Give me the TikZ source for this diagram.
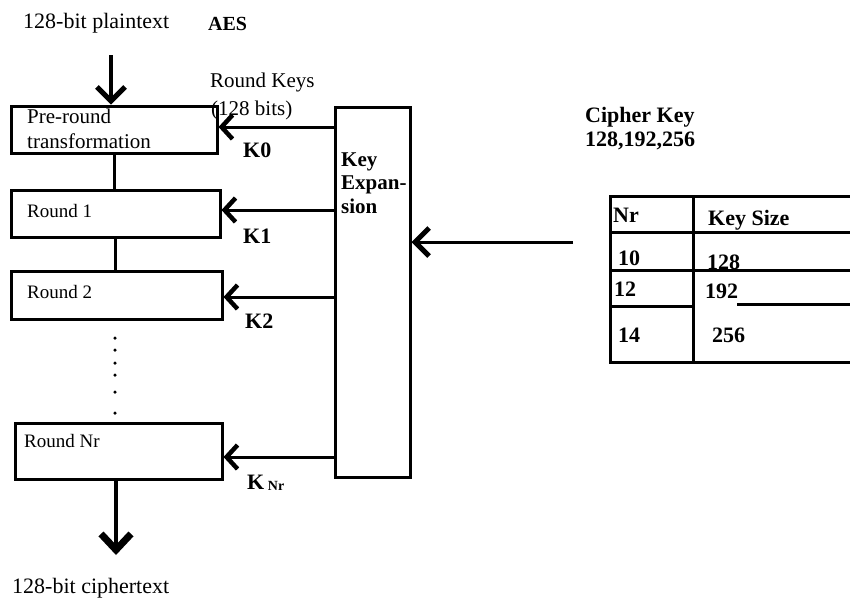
\documentclass[tikz,border=0pt]{standalone}
\usepackage{fontspec}
\setmainfont{Liberation Serif}
\usetikzlibrary{arrows.meta,calc}
\begin{document}
\begin{tikzpicture}[x=1pt,y=-1pt,
  boxnode/.style={draw,line width=3pt,rectangle,inner sep=0pt},
  conn/.style={line width=3pt},
  keyarrow/.style={line width=3pt,-{Straight Barb[length=11pt,width=24pt,line width=4.5pt]}},
  bigarrow/.style={line width=3.5pt,-{Straight Barb[length=14pt,width=28pt,line width=5pt]}},
  tabline/.style={line width=3pt},
  txt/.style={font=\fontsize{22}{25}\selectfont,inner sep=0pt,anchor=west},
  boldtxt/.style={font=\fontsize{22}{24}\selectfont\bfseries,inner sep=0pt,anchor=west},
  boxtxt/.style={font=\fontsize{19}{25}\selectfont,inner sep=0pt,anchor=west,align=left},
  dotstyle/.style={fill,circle,inner sep=0pt,minimum size=3.5pt}
]
\useasboundingbox (0,0) rectangle (850,598);
\fill[white] (0,0) rectangle (850,598);

% boxes
\node[boxnode,minimum width=206pt,minimum height=47pt] (pre) at (114,129.5) {};
\node[boxnode,minimum width=209pt,minimum height=47pt] (r1) at (115.5,213.5) {};
\node[boxnode,minimum width=211pt,minimum height=48pt] (r2) at (116.5,295) {};
\node[boxnode,minimum width=207pt,minimum height=56pt] (rn) at (118.5,451) {};
\node[boxnode,minimum width=75pt,minimum height=370pt] (ke) at (372.5,292) {};

% box texts
\node[boxtxt,font=\fontsize{21}{25}\selectfont] (tpre) at (27,129) {Pre-round\\transformation};
\node[boxtxt] (tr1) at (27,211) {Round 1};
\node[boxtxt] (tr2) at (27,292) {Round 2};
\node[boxtxt] (trn) at (24,441) {Round Nr};
\node[boldtxt,align=left,font=\fontsize{21}{23.5}\selectfont\bfseries] (tke) at (341,183) {Key\\Expan-\\sion};

% outside texts
\node[txt] (tplain) at (23,23) {128-bit plaintext};
\node[boldtxt,font=\fontsize{20}{24}\selectfont\bfseries] (taes) at (208,24) {AES};
\node[txt,font=\fontsize{21}{25}\selectfont] (trk) at (210,82) {Round Keys};
\node[txt,font=\fontsize{21}{25}\selectfont] (trk2) at (211,110) {(128 bits)};
\node[boldtxt] (k0) at (243,150) {K0};
\node[boldtxt] (k1) at (243,236) {K1};
\node[boldtxt] (k2) at (245,321) {K2};
\node[boldtxt] (knr) at (247,483) {K\,\raisebox{-1pt}{\fontsize{14}{16}\selectfont Nr}};
\node[txt] (tcipher) at (12,588) {128-bit ciphertext};
\node[boldtxt] (tck) at (585,117) {Cipher Key};
\node[boldtxt] (tck2) at (585,141) {128,192,256};

% connectors between rounds
\draw[conn] (pre.south) -- (pre.south |- r1.north);
\draw[conn] (r1.south) -- (r1.south |- r2.north);

% dots
\foreach \yy [count=\i] in {338,350,363,375,392,413}
  \node[dotstyle] (dot\i) at (115,\yy) {};

% input / output arrows
\coordinate (pin) at (111,55);
\draw[bigarrow] (pin) -- (pin |- pre.north);
\coordinate (cout) at (116,555);
\draw[line width=3.5pt,-{Straight Barb[length=16pt,width=30pt,line width=7pt]}] (cout |- rn.south) -- (cout);

% key arrows
\draw[keyarrow] ([yshift=2.5pt]pre.east -| ke.west) -- ([yshift=2.5pt]pre.east);
\draw[keyarrow] ([yshift=3.5pt]r1.east -| ke.west) -- ([yshift=3.5pt]r1.east);
\draw[keyarrow] ([yshift=-2pt]r2.east -| ke.west) -- ([yshift=-2pt]r2.east);
\draw[keyarrow] ([yshift=-6pt]rn.east -| ke.west) -- ([yshift=-6pt]rn.east);

% cipher key arrow
\coordinate (ckin) at (573,242);
\draw[line width=3pt,-{Straight Barb[length=14pt,width=28pt,line width=5pt]}] (ckin) -- (ckin -| ke.east);

% table
\coordinate (tl) at (610,196);
\coordinate (br) at (850,362);
\draw[tabline] (850,196) -- (tl) -- (610,362) -- (br);
\draw[tabline] (693,196) -- (693,362);
\draw[tabline] (610,232) -- (850,232);
\draw[tabline] (610,270) -- (850,270);
\draw[tabline] (610,306) -- (693,306);
\draw[tabline] (737,304) -- (850,304);

\node[boldtxt] (tnr) at (613,215) {Nr};
\node[boldtxt] (tks) at (708,220) {Key Size};
\node[boldtxt] (t10) at (618,258) {10};
\node[boldtxt] (t128) at (707,262) {128};
\node[boldtxt] (t12) at (614,289) {12};
\node[boldtxt] (t192) at (705,291) {192};
\node[boldtxt] (t14) at (618,335) {14};
\node[boldtxt] (t256) at (712,335) {256};
\end{tikzpicture}
\end{document}
